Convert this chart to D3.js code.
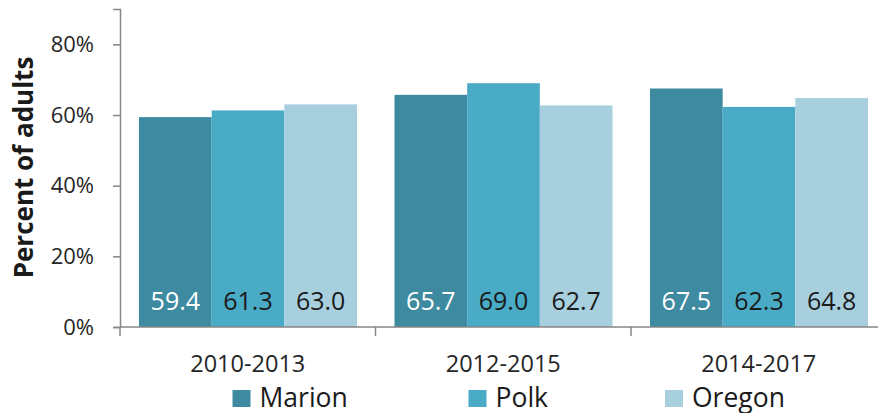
<!DOCTYPE html>
<html>
<head>
<meta charset="utf-8">
<script src="https://cdn.jsdelivr.net/npm/d3@7"></script>
<style>
  html, body { margin: 0; padding: 0; background: #fff; }
  svg { display: block; font-family: "Open Sans", "Noto Sans", sans-serif; }
</style>
</head>
<body>
<svg id="chart" width="878" height="413"></svg>
<script>
const categories = ["2010-2013", "2012-2015", "2014-2017"];
const seriesNames = ["Marion", "Polk", "Oregon"];
const marion = [59.4, 65.7, 67.5];
const polk = [61.3, 69.0, 62.3];
const oregon = [63.0, 62.7, 64.8];
const yTicks = [0, 20, 40, 60, 80];
const colors = ["#3d8aa1", "#4aabc6", "#a8cfde"];
const labelColors = ["#ffffff", "#1a1a1a", "#1a1a1a"];

const series = [marion, polk, oregon];
const svg = d3.select("#chart");

const x0 = 120, x1 = 886.5, yBase = 327;
const y = d3.scaleLinear().domain([0, 90]).range([yBase, yBase - 318]);
const xCat = d3.scaleBand().domain(categories).range([x0, x1]).paddingInner(0).paddingOuter(0);
const xSer = d3.scaleBand().domain(seriesNames).range([19, xCat.bandwidth() - 18.5]).padding(0);

// bars
categories.forEach((c, ci) => {
  const g = svg.append("g").attr("transform", `translate(${xCat(c)},0)`);
  seriesNames.forEach((s, si) => {
    const v = series[si][ci];
    g.append("rect")
      .attr("x", xSer(s))
      .attr("y", y(v))
      .attr("width", xSer.bandwidth())
      .attr("height", y(0) - y(v))
      .attr("fill", colors[si]);
    g.append("text")
      .attr("x", xSer(s) + xSer.bandwidth() / 2)
      .attr("y", 310)
      .attr("text-anchor", "middle")
      .attr("font-size", 25)
      .attr("fill", labelColors[si])
      .text(v.toFixed(1));
  });
});

// y axis
const yAxis = d3.axisLeft(y).tickValues(yTicks).tickSize(7).tickPadding(19)
  .tickFormat(d => d + "%");
const yg = svg.append("g").attr("transform", `translate(${x0},0)`).call(yAxis);
yg.select(".domain").attr("stroke", "#868686").attr("stroke-width", 1.5);
yg.selectAll(".tick line").attr("stroke", "#868686").attr("stroke-width", 1.5);
yg.selectAll(".tick text").attr("font-size", 22).attr("fill", "#262626")
  .attr("font-family", "'Open Sans', sans-serif");

// x axis line
svg.append("line").attr("x1", x0).attr("x2", x1).attr("y1", yBase).attr("y2", yBase)
  .attr("stroke", "#868686").attr("stroke-width", 1.5);
// category boundary ticks
const bounds = categories.map(c => xCat(c)).concat([x1]);
svg.selectAll(".xtick").data(bounds).enter().append("line")
  .attr("x1", d => d).attr("x2", d => d).attr("y1", yBase).attr("y2", yBase + 9)
  .attr("stroke", "#868686").attr("stroke-width", 1.5);
// category labels
svg.selectAll(".xlab").data(categories).enter().append("text")
  .attr("x", d => xCat(d) + xCat.bandwidth() / 2)
  .attr("y", 371.5)
  .attr("text-anchor", "middle")
  .attr("font-size", 23.5)
  .attr("fill", "#262626")
  .text(d => d);

// y title
svg.append("text")
  .attr("transform", "translate(33,167.5) rotate(-90)")
  .attr("text-anchor", "middle")
  .attr("font-size", 26)
  .attr("font-weight", "bold")
  .attr("fill", "#1a1a1a")
  .text("Percent of adults");

// legend
const legendX = [232.5, 468.5, 665];
seriesNames.forEach((s, i) => {
  svg.append("rect").attr("x", legendX[i]).attr("y", 390).attr("width", 18).attr("height", 17)
    .attr("fill", colors[i]);
  svg.append("text").attr("x", legendX[i] + 27).attr("y", 406.5)
    .attr("font-size", 26.5).attr("fill", "#1a1a1a").text(s);
});
</script>
</body>
</html>
